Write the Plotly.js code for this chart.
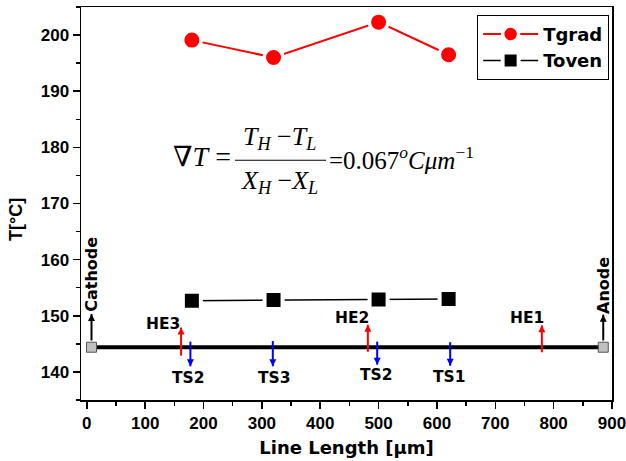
<!DOCTYPE html>
<html>
<head>
<meta charset="utf-8">
<script src="https://cdn.plot.ly/plotly-3.0.1.min.js"></script>
<style>html,body{margin:0;padding:0;background:#fff}#chart{width:626px;height:461px}</style>
</head>
<body>
<div id="chart"></div>
<script>
// ---- data ----
const tgradX = [180, 320, 500, 620];
const tgradY = [199.1, 196.0, 202.3, 196.5];
const tovenX = [180, 320, 500, 620];
const tovenY = [152.7, 152.8, 152.9, 153.0];
const lineX = [8, 885];
const lineY = [144.4, 144.4];
// heating elements (red, pointing up)
const heLabels = ['HE3', 'HE2', 'HE1'];
const heX = [161.5, 481.6, 779.8];
const heTail = [142.9, 143.6, 143.5];
const heHead = [147.9, 148.4, 148.3];
const heLabelX = [131, 454, 755];
const heLabelY = [148.6, 149.65, 149.65];
// temperature sensors (blue, pointing down)
const tsLabels = ['TS2', 'TS3', 'TS2', 'TS1'];
const tsX = [177.5, 318.7, 497.6, 622.7];
const tsTail = [145.4, 145.5, 145.4, 145.3];
const tsHead = [141.0, 141.0, 141.3, 141.1];
const tsLabelX = [174, 322, 496, 621];
const tsLabelY = [139.0, 139.0, 139.4, 139.1];
// electrodes
const elLabels = ['Cathode', 'Anode'];
const elX = [8, 885];
const elTail = [145.6, 145.6];
const elHead = [150.3, 150.2];
const elLabelY = [157.4, 155.35];
// axis ticks
const xTicks = [0, 100, 200, 300, 400, 500, 600, 700, 800, 900];
const yTicks = [140, 150, 160, 170, 180, 190, 200];

const sans = 'Liberation Sans, Arial, sans-serif';
const dv = 'DejaVu Sans, Verdana, sans-serif';
const serif = 'Liberation Serif, Times New Roman, serif';
const bold = (fam, size) => ({family: fam, size: size, weight: 'bold', color: '#000'});

function arrowTraces(xs, tails, heads, color, up) {
  const lx = [], ly = [];
  xs.forEach((x, i) => { lx.push(x, x, null); ly.push(tails[i], heads[i], null); });
  return [
    {x: lx, y: ly, mode: 'lines', showlegend: false, hoverinfo: 'skip',
     line: {color: color, width: 2}},
    {x: xs, y: heads, mode: 'markers', showlegend: false, hoverinfo: 'skip',
     marker: {symbol: up ? 'arrow-up' : 'arrow-down', size: 7, color: color, line: {width: 0}}}
  ];
}

const traces = [
  {x: lineX, y: lineY, mode: 'lines+markers', showlegend: false, hoverinfo: 'skip',
   line: {color: '#000', width: 4},
   marker: {symbol: 'square', size: 10, color: '#c0c0c0', line: {color: '#555', width: 1}}},
  ...arrowTraces(heX, heTail, heHead, '#ff0000', true),
  ...arrowTraces(tsX, tsTail, tsHead, '#0000ff', false),
  ...arrowTraces(elX, elTail, elHead, '#000000', true),
  {x: tgradX, y: tgradY, name: 'Tgrad', mode: 'lines+markers',
   line: {color: '#ff0000', width: 2},
   marker: {symbol: 'circle', size: 18.5, color: '#ff0000', line: {color: '#fff', width: 3.5}}},
  {x: tovenX, y: tovenY, name: 'Toven', mode: 'lines+markers',
   line: {color: '#000', width: 1.5},
   marker: {symbol: 'square', size: 18, color: '#000', line: {color: '#fff', width: 4}}}
];

const ann = [];
heX.forEach((x, i) => {
  ann.push({x: heLabelX[i], y: heLabelY[i], xref: 'x', yref: 'y', text: heLabels[i], showarrow: false,
    font: bold(dv, 15.5)});
});
tsX.forEach((x, i) => {
  ann.push({x: tsLabelX[i], y: tsLabelY[i], xref: 'x', yref: 'y', text: tsLabels[i], showarrow: false,
    font: bold(dv, 15.5)});
});
elX.forEach((x, i) => {
  ann.push({x: x, y: elLabelY[i], xref: 'x', yref: 'y', text: elLabels[i], showarrow: false, textangle: -90,
    font: bold(dv, 16)});
});
// formula
ann.push({x: 251, y: 178.4, xref: 'x', yref: 'y', xanchor: 'right',
  text: '<span style="font-family:DejaVu Serif">\u2207</span><i>T</i> =', showarrow: false,
  font: {family: serif, size: 28, color: '#000'}});
ann.push({x: 331, y: 181.6, xref: 'x', yref: 'y', text: '<i>T</i><sub><i>H</i></sub> \u2212<i>T</i><sub><i>L</i></sub>', showarrow: false,
  font: {family: serif, size: 26, color: '#000'}});
ann.push({x: 331, y: 173.9, xref: 'x', yref: 'y', text: '<i>X</i><sub><i>H</i></sub> \u2212<i>X</i><sub><i>L</i></sub>', showarrow: false,
  font: {family: serif, size: 26, color: '#000'}});
ann.push({x: 412, y: 178.1, xref: 'x', yref: 'y', xanchor: 'left', text: '=0.067<sup><i>o</i></sup><i>C\u03bcm</i><sup>\u22121</sup>', showarrow: false,
  font: {family: serif, size: 25, color: '#000'}});
// y title
ann.push({x: -0.1224, y: 0.458, xref: 'paper', yref: 'paper', xanchor: 'center', yanchor: 'middle',
  text: 'T[\u00b0C]', textangle: -90, showarrow: false, font: bold(sans, 18)});

const layout = {
  width: 626, height: 461,
  margin: {l: 81, r: 14, t: 7, b: 61},
  paper_bgcolor: '#fff', plot_bgcolor: '#fff',
  showlegend: true,
  legend: {x: 0.746, y: 0.98, xanchor: 'left', yanchor: 'top', bordercolor: '#000', borderwidth: 1,
    bgcolor: '#fff', font: bold(dv, 18), itemwidth: 55, tracegroupgap: 0},
  xaxis: {range: [-10, 900], tickvals: xTicks, ticklabeloverflow: 'allow',
    showgrid: false, zeroline: false, showline: true, mirror: true, linecolor: '#000', linewidth: 1.5,
    ticks: 'outside', ticklen: 7, tickwidth: 1.5, tickcolor: '#000',
    minor: {dtick: 50, tick0: 0, ticks: 'outside', ticklen: 4, tickwidth: 1.5, tickcolor: '#000'},
    tickfont: bold(sans, 17),
    title: {text: 'Line Length [\u03bcm]', font: bold(dv, 18), standoff: 9}},
  yaxis: {range: [135, 205], tickvals: yTicks, ticklabeloverflow: 'allow',
    showgrid: false, zeroline: false, showline: true, mirror: true, linecolor: '#000', linewidth: 1.5,
    ticks: 'outside', ticklen: 7, tickwidth: 1.5, tickcolor: '#000',
    minor: {dtick: 5, tick0: 135, ticks: 'outside', ticklen: 4, tickwidth: 1.5, tickcolor: '#000'},
    tickfont: bold(sans, 17)},
  shapes: [{type: 'line', xref: 'x', yref: 'y', x0: 254, x1: 410, y0: 177.7, y1: 177.7,
    line: {color: '#000', width: 1.2}}],
  annotations: ann
};

Plotly.newPlot('chart', traces, layout, {displayModeBar: false, staticPlot: true});
</script>
</body>
</html>
